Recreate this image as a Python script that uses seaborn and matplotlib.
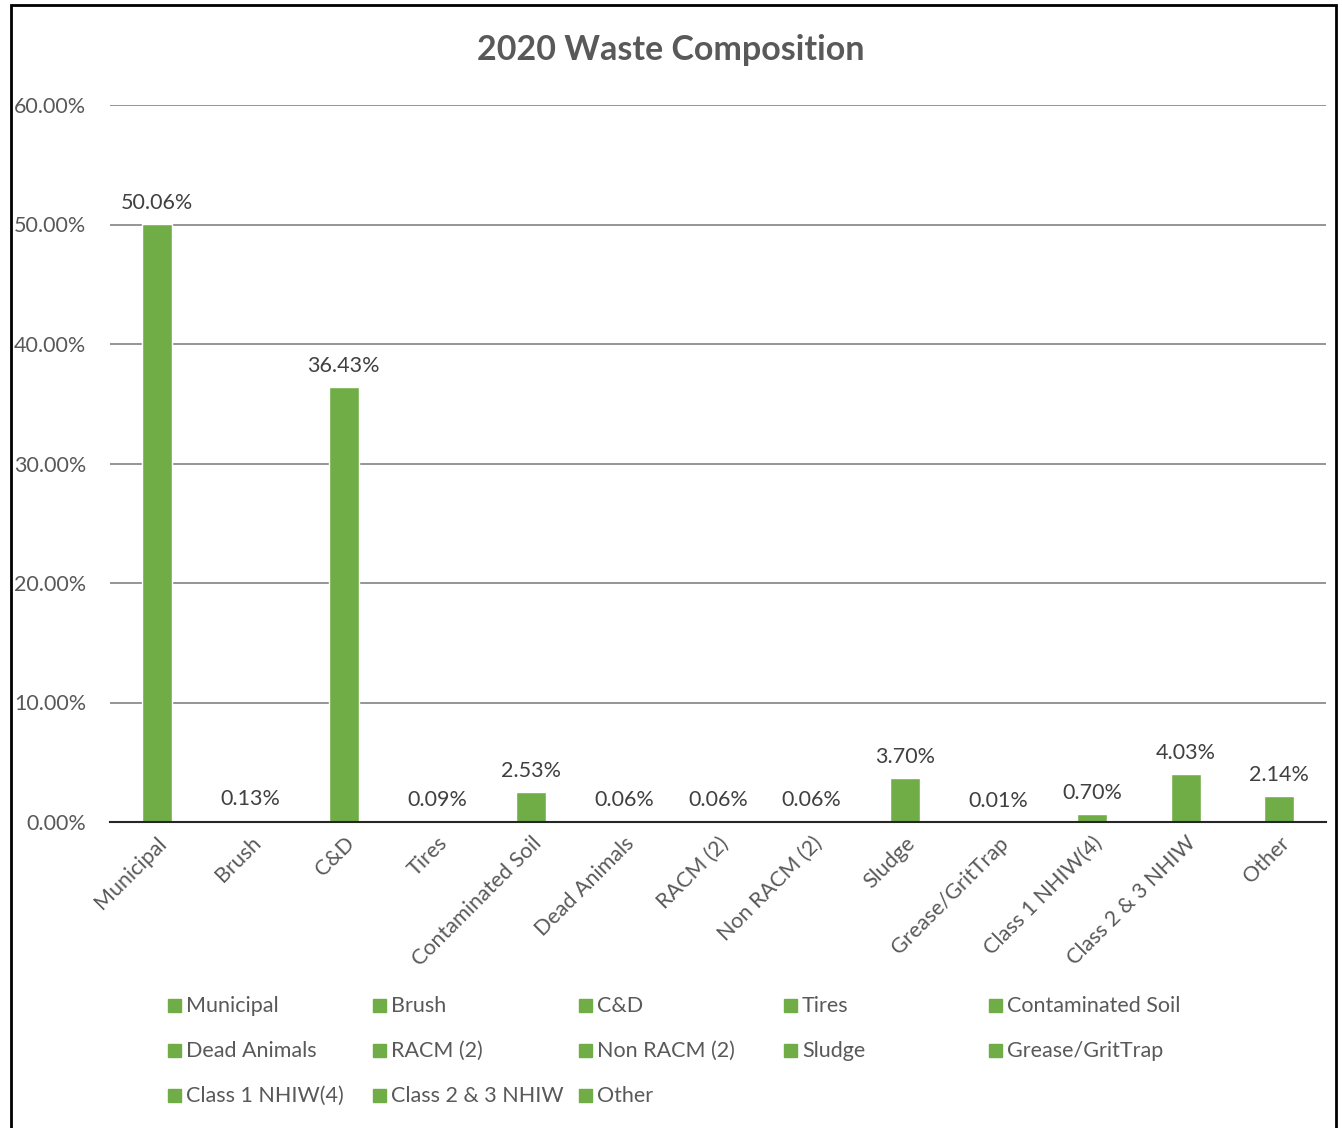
import matplotlib
matplotlib.use("Agg")
import matplotlib.pyplot as plt
import matplotlib.patches as mpatches
import seaborn as sns
import pandas as pd

# data
categories = ["Municipal", "Brush", "C&D", "Tires", "Contaminated Soil", "Dead Animals",
              "RACM (2)", "Non RACM (2)", "Sludge", "Grease/GritTrap", "Class 1 NHIW(4)",
              "Class 2 & 3 NHIW", "Other"]
shares = [50.06, 0.13, 36.43, 0.09, 2.53, 0.06, 0.06, 0.06, 3.70, 0.01, 0.70, 4.03, 2.14]
yticks = [0, 10, 20, 30, 40, 50, 60]

green = "#70AD47"
grey_text = "#595959"

sns.set_style("white")
plt.rcParams["font.family"] = ["Lato", "DejaVu Sans"]

df = pd.DataFrame({"category": categories, "share": shares})

W, H = 1342, 1128
fig = plt.figure(figsize=(W / 100, H / 100), dpi=100)
ax = fig.add_axes([110 / W, 1 - 822 / H, 1216 / W, 717 / H])

sns.barplot(data=df, x="category", y="share", color=green, width=0.32,
            saturation=1, ax=ax)

ax.set_xlim(-0.5, len(categories) - 0.5)
ax.set_ylim(0, 60)
ax.set_yticks(yticks)
ax.set_yticklabels([f"{t:.2f}%" for t in yticks], fontsize=15.5, color=grey_text)
ax.tick_params(axis="y", length=0, pad=17)
ax.tick_params(axis="x", length=0, pad=8)
ax.set_xticks(range(len(categories)))
ax.set_xticklabels(categories, rotation=45, ha="right", rotation_mode="anchor",
                   fontsize=15.5, color=grey_text)
ax.set_xlabel("")
ax.set_ylabel("")

ax.yaxis.grid(True, color="#8C8C8C", linewidth=1.3)
ax.set_axisbelow(True)
for side in ["left", "right", "top"]:
    ax.spines[side].set_visible(False)
ax.spines["bottom"].set_color("#262626")
ax.spines["bottom"].set_linewidth(1.5)

ax.bar_label(ax.containers[0], labels=[f"{v:.2f}%" for v in shares],
             padding=8, fontsize=15.5, color="#404040")

fig.text(0.5, 1 - 50 / H, "2020 Waste Composition", ha="center", va="center",
         fontsize=24.5, fontweight="bold", color=grey_text)

# legend laid out row by row, five columns
col_x = [168, 373, 579, 784, 989]
row_y = [1006, 1051, 1096]
for i, name in enumerate(categories):
    x = col_x[i % 5]
    y = row_y[i // 5]
    fig.add_artist(mpatches.Rectangle((x / W, 1 - (y + 6) / H), 13 / W, 13 / H,
                                      transform=fig.transFigure, color=green))
    fig.text((x + 18) / W, 1 - y / H, name, ha="left", va="center",
             fontsize=15.5, color=grey_text)

# chart border
fig.add_artist(mpatches.Rectangle((11 / W, -0.05), 1325 / W, 1.05 - 5 / H,
                                  transform=fig.transFigure, fill=False,
                                  edgecolor="black", linewidth=2))

fig.savefig("out.png", dpi=100)
